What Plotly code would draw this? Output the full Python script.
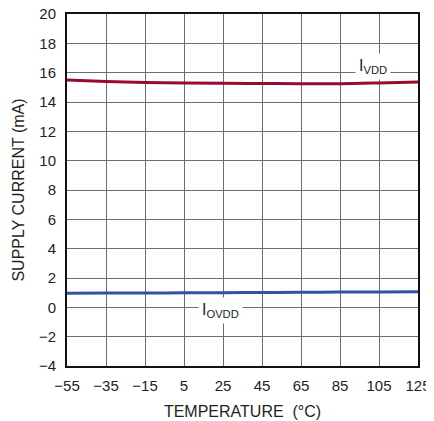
import plotly.graph_objects as go

# Data
temp = [-55, -35, -15, 5, 25, 45, 65, 85, 105, 125]
i_vdd = [15.50, 15.40, 15.33, 15.29, 15.27, 15.26, 15.25, 15.25, 15.30, 15.37]
i_ovdd = [0.96, 0.97, 0.98, 0.99, 1.00, 1.01, 1.02, 1.04, 1.05, 1.07]

x_ticks = [-55, -35, -15, 5, 25, 45, 65, 85, 105, 125]
y_ticks = list(range(-4, 21, 2))

font_name = "Liberation Sans, Arial, sans-serif"

fig = go.Figure()

fig.add_trace(go.Scatter(x = temp, y = i_vdd, mode = 'lines', line_shape = 'spline',
                         line = dict(color = '#9b0b30', width = 3)))
fig.add_trace(go.Scatter(x = temp, y = i_ovdd, mode = 'lines', line_shape = 'spline',
                         line = dict(color = '#3451a3', width = 3)))

# curve labels, white box breaks the grid like the original
fig.add_annotation(x = 102, y = 16.4, text = 'I<sub>VDD</sub>', showarrow = False,
                   bgcolor = 'white', borderpad = 3, xanchor = 'center',
                   font = dict(family = font_name, size = 16, color = '#231f20'))
fig.add_annotation(x = 23.5, y = -0.2, text = 'I<sub>OVDD</sub>', showarrow = False,
                   bgcolor = 'white', borderpad = 3, xanchor = 'center',
                   font = dict(family = font_name, size = 16, color = '#231f20'))

fig.update_xaxes(
    range = [-55, 125], tickvals = x_ticks, ticks = '', automargin = False,
    ticklabelstandoff = 5, ticklabeloverflow = 'allow',
    showgrid = True, gridcolor = '#6d6d6d', gridwidth = 1,
    showline = True, linecolor = '#111', linewidth = 2, mirror = True,
    zeroline = False,
    title = dict(text = 'TEMPERATURE  (°C)', standoff = 13,
                 font = dict(family = font_name, size = 16, color = '#231f20')),
    tickfont = dict(family = font_name, size = 15, color = '#231f20'))

fig.update_yaxes(
    range = [-4, 20], tickvals = y_ticks, ticks = '', automargin = False,
    ticklabelstandoff = 6, ticklabeloverflow = 'allow',
    showgrid = True, gridcolor = '#6d6d6d', gridwidth = 1,
    showline = True, linecolor = '#111', linewidth = 2, mirror = True,
    zeroline = False,
    title = dict(text = 'SUPPLY CURRENT (mA)', standoff = 10,
                 font = dict(family = font_name, size = 16, color = '#231f20')),
    tickfont = dict(family = font_name, size = 15, color = '#231f20'))

# page has an 8px body margin, so margins are shifted to put the frame where the original has it
fig.update_layout(width = 434, height = 421, showlegend = False,
                  plot_bgcolor = 'white', paper_bgcolor = 'white',
                  margin = dict(l = 59, r = 24, t = 6, b = 63))

fig.write_html("out.html")
